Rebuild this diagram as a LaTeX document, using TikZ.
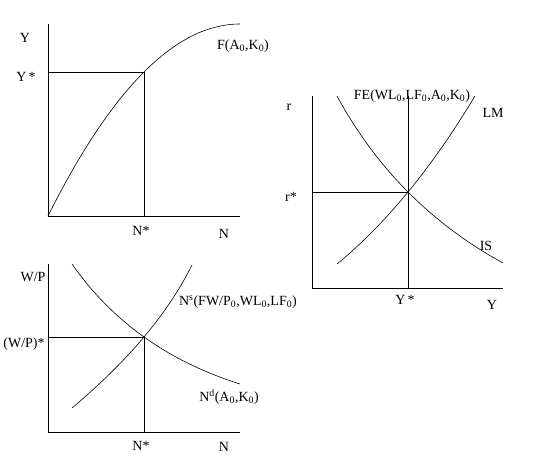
\documentclass[tikz,border=0pt]{standalone}
\usepackage{fontspec}
\setmainfont{Liberation Serif}
\newcommand{\sbs}[1]{\textsubscript{#1}}
\newcommand{\sps}[1]{\textsuperscript{#1}}
\begin{document}
\begin{tikzpicture}[x=1pt,y=-1pt,
  axis/.style={line width=0.9pt},
  guide/.style={line width=0.9pt},
  curve/.style={line width=0.6pt},
  lbl/.style={font=\fontsize{14}{16}\selectfont, inner sep=0pt}]
\useasboundingbox (0,0) rectangle (542,462);
% ---------- top-left panel ----------
\coordinate (O1) at (48,216);
\coordinate (T1) at (48,24);
\coordinate (X1) at (240,216);
\coordinate (E1) at (144,72);
\coordinate (YS1) at (48,72);
\coordinate (NS1) at (144,216);
\coordinate (F1) at (240,24);
\draw[axis] (T1) -- (O1) -- (X1);
\draw[guide] (YS1) -- (E1) -- (NS1);
\draw[curve] (O1) .. controls (112,88) and (176,24) .. (F1);
\node[lbl] (lY) at (25,38) {Y};
\node[lbl] (lYs) at (26,77) {Y\,*};
\node[lbl] (lF) at (243,46) {F(A\sbs{0},K\sbs{0})};
\node[lbl] (lNs1) at (141,230.5) {N*};
\node[lbl] (lN1) at (224,234) {N};
% ---------- bottom-left panel ----------
\coordinate (O2) at (48,432);
\coordinate (T2) at (48,264);
\coordinate (X2) at (240,432);
\coordinate (E2) at (144,337);
\coordinate (WS) at (48,337);
\coordinate (NS2) at (144,432);
\coordinate (Nd0) at (72,264);
\coordinate (Nd1) at (240,384);
\coordinate (Ns0) at (72,408);
\coordinate (Ns1) at (192,265);
\draw[axis] (T2) -- (O2) -- (X2);
\draw[guide] (WS) -- (E2) -- (NS2);
\draw[curve] (Nd0) .. controls (112,321.3) and (168,361.3) .. (Nd1);
\draw[curve] (Ns0) .. controls (128,361) and (168,313.3) .. (Ns1);
\node[lbl] (lWP) at (33,277) {W/P};
\node[lbl] (lWPs) at (24,344) {(W/P)*};
\node[lbl] (lNsup) at (238,302) {N\sps{s}(FW/P\sbs{0},WL\sbs{0},LF\sbs{0})};
\node[lbl] (lNd) at (229,397) {N\sps{d}(A\sbs{0},K\sbs{0})};
\node[lbl] (lNs2) at (141,446) {N*};
\node[lbl] (lN2) at (224,447) {N};
% ---------- right panel ----------
\coordinate (O3) at (312,288);
\coordinate (T3) at (312,96);
\coordinate (X3) at (503,288);
\coordinate (E3) at (408,192);
\coordinate (RS) at (312,192);
\coordinate (FEt) at (408,96);
\coordinate (FEb) at (408,288);
\coordinate (IS0) at (337,96);
\coordinate (IS1) at (503,263);
\coordinate (LM0) at (337,264);
\coordinate (LM1) at (475,96);
\draw[axis] (T3) -- (O3) -- (X3);
\draw[guide] (RS) -- (E3);
\draw[guide] (FEt) -- (FEb);
\draw[curve] (IS0) .. controls (376.3,168.3) and (431.7,224) .. (IS1);
\draw[curve] (LM0) .. controls (385.7,224) and (431.7,168) .. (LM1);
\node[lbl] (lr) at (289,107) {r};
\node[lbl] (lrs) at (291,197) {r*};
\node[lbl] (lFE) at (412,96) {FE(WL\sbs{0},LF\sbs{0},A\sbs{0},K\sbs{0})};
\node[lbl] (lLM) at (493,113) {LM};
\node[lbl] (lIS) at (486,246) {IS};
\node[lbl] (lYs3) at (405,300) {Y\,*};
\node[lbl] (lY3) at (492,305) {Y};
\end{tikzpicture}
\end{document}
